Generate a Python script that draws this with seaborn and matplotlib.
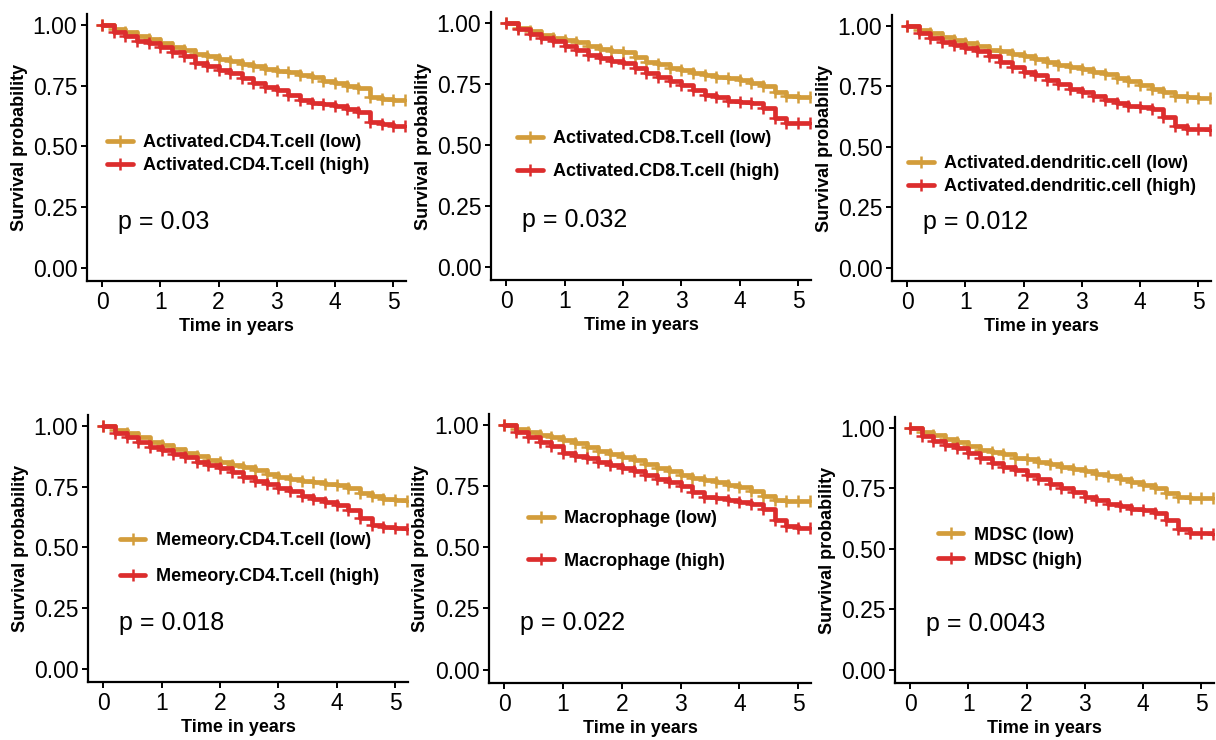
import matplotlib
matplotlib.use("Agg")
import matplotlib.pyplot as plt
import seaborn as sns
import pandas as pd

sns.set_theme(style="ticks", context="paper")
plt.rcParams["font.family"] = ["Liberation Sans", "DejaVu Sans"]
plt.rcParams["text.color"] = "black"
plt.rcParams["axes.labelcolor"] = "black"
plt.rcParams["xtick.color"] = "black"
plt.rcParams["ytick.color"] = "black"

time = [0.0, 0.2, 0.4, 0.6, 0.8, 1.0, 1.2, 1.4, 1.6, 1.8, 2.0, 2.2, 2.4, 2.6,
        2.8, 3.0, 3.2, 3.4, 3.6, 3.8, 4.0, 4.2, 4.4, 4.6, 4.8, 5.0, 5.2]

cells = ["Activated.CD4.T.cell", "Activated.CD8.T.cell", "Activated.dendritic.cell",
         "Memeory.CD4.T.cell", "Macrophage", "MDSC"]
pvals = ["p = 0.03", "p = 0.032", "p = 0.012", "p = 0.018", "p = 0.022", "p = 0.0043"]

cd4_low = [1.0, 0.985, 0.97, 0.955, 0.94, 0.925, 0.91, 0.895, 0.88, 0.87, 0.86, 0.85, 0.84, 0.83,
           0.82, 0.81, 0.805, 0.795, 0.785, 0.77, 0.76, 0.75, 0.74, 0.705, 0.695, 0.69, 0.69]
cd4_high = [1.0, 0.97, 0.955, 0.935, 0.925, 0.91, 0.89, 0.87, 0.845, 0.83, 0.815, 0.80, 0.78, 0.76,
            0.745, 0.73, 0.71, 0.69, 0.68, 0.675, 0.665, 0.655, 0.64, 0.60, 0.59, 0.585, 0.585]
cd8_low = [1.0, 0.98, 0.965, 0.95, 0.94, 0.93, 0.92, 0.905, 0.895, 0.885, 0.88, 0.86, 0.84, 0.83,
           0.815, 0.805, 0.795, 0.785, 0.78, 0.775, 0.765, 0.755, 0.74, 0.715, 0.70, 0.695, 0.695]
cd8_high = [1.0, 0.975, 0.955, 0.94, 0.925, 0.905, 0.89, 0.87, 0.855, 0.845, 0.835, 0.815, 0.795, 0.78,
            0.76, 0.745, 0.725, 0.705, 0.695, 0.68, 0.675, 0.67, 0.65, 0.61, 0.59, 0.59, 0.59]
dc_low = [1.0, 0.985, 0.97, 0.955, 0.94, 0.93, 0.915, 0.90, 0.895, 0.885, 0.875, 0.865, 0.85, 0.84,
          0.83, 0.82, 0.81, 0.80, 0.785, 0.77, 0.755, 0.74, 0.725, 0.71, 0.705, 0.70, 0.70]
dc_high = [1.0, 0.97, 0.95, 0.935, 0.92, 0.91, 0.895, 0.875, 0.85, 0.83, 0.81, 0.795, 0.775, 0.76,
           0.74, 0.725, 0.71, 0.695, 0.68, 0.67, 0.665, 0.655, 0.625, 0.585, 0.575, 0.575, 0.57]
mem_low = [1.0, 0.985, 0.97, 0.955, 0.935, 0.92, 0.905, 0.89, 0.875, 0.86, 0.85, 0.84, 0.83, 0.82,
           0.80, 0.79, 0.78, 0.775, 0.77, 0.76, 0.755, 0.745, 0.725, 0.71, 0.70, 0.695, 0.69]
mem_high = [1.0, 0.97, 0.955, 0.935, 0.915, 0.90, 0.885, 0.87, 0.85, 0.84, 0.825, 0.81, 0.79, 0.775,
            0.76, 0.745, 0.73, 0.71, 0.70, 0.685, 0.675, 0.655, 0.62, 0.59, 0.585, 0.58, 0.575]
mac_low = [1.0, 0.985, 0.97, 0.96, 0.95, 0.94, 0.925, 0.91, 0.895, 0.88, 0.87, 0.855, 0.84, 0.825,
           0.81, 0.795, 0.785, 0.775, 0.765, 0.755, 0.745, 0.73, 0.71, 0.695, 0.69, 0.69, 0.69]
mac_high = [1.0, 0.97, 0.95, 0.93, 0.915, 0.885, 0.875, 0.865, 0.85, 0.835, 0.825, 0.81, 0.795, 0.78,
            0.765, 0.75, 0.725, 0.705, 0.70, 0.695, 0.685, 0.675, 0.655, 0.61, 0.585, 0.58, 0.58]
mdsc_low = [1.0, 0.985, 0.97, 0.955, 0.94, 0.925, 0.91, 0.90, 0.89, 0.875, 0.87, 0.86, 0.85, 0.84,
            0.83, 0.82, 0.81, 0.80, 0.79, 0.775, 0.765, 0.75, 0.73, 0.715, 0.71, 0.71, 0.71]
mdsc_high = [1.0, 0.965, 0.945, 0.93, 0.915, 0.895, 0.875, 0.855, 0.84, 0.825, 0.805, 0.79, 0.77, 0.75,
             0.735, 0.715, 0.70, 0.685, 0.675, 0.665, 0.66, 0.65, 0.62, 0.58, 0.565, 0.565, 0.56]

low_curves = [cd4_low, cd8_low, dc_low, mem_low, mac_low, mdsc_low]
high_curves = [cd4_high, cd8_high, dc_high, mem_high, mac_high, mdsc_high]

# legend anchor (data coords: handle left, centre between rows) and row spacing
legend_anchor = [(0.09, 0.467), (0.19, 0.457), (0.02, 0.382),
                 (0.29, 0.452), (0.41, 0.53), (0.48, 0.505)]
legend_spacing = [0.35, 0.9, 0.35, 1.05, 1.4, 0.45]

# axes rectangles in pixels: left, top, right, bottom
boxes = [(87, 14, 406, 281), (491, 12, 811, 280), (892, 15, 1211, 281),
         (88, 415, 408, 682), (489, 414, 811, 683), (895, 417, 1214, 683)]

GOLD = "#D39D3B"
RED = "#DC2D2D"
W, H = 1216, 740

fig = plt.figure(figsize=(W / 100, H / 100), dpi=100)

for i in range(6):
    l, t, r, b = boxes[i]
    ax = fig.add_axes([l / W, 1 - b / H, (r - l) / W, (b - t) / H])

    lab_low = f"{cells[i]} (low)"
    lab_high = f"{cells[i]} (high)"
    df = pd.DataFrame({
        "time": time + time,
        "surv": low_curves[i] + high_curves[i],
        "group": [lab_low] * len(time) + [lab_high] * len(time),
    })
    sns.lineplot(data=df, x="time", y="surv", hue="group",
                 palette={lab_low: GOLD, lab_high: RED},
                 estimator=None, drawstyle="steps-post", linewidth=3.4,
                 marker="+", markersize=9, markeredgewidth=1.8,
                 legend=False, ax=ax)

    lines = ax.get_lines()[:2]
    for ln in lines:
        ln.set_markeredgecolor(ln.get_color())
        ln.set_markerfacecolor(ln.get_color())

    ax.set_xlim(-0.26, 5.22)
    ax.set_ylim(-0.055, 1.045)
    ax.set_xticks([0, 1, 2, 3, 4, 5])
    ax.set_yticks([0, 0.25, 0.5, 0.75, 1.0])
    ax.set_yticklabels(["0.00", "0.25", "0.50", "0.75", "1.00"])
    ax.tick_params(labelsize=16.5, length=4, width=1.4, pad=3, colors="black")
    for side in ["left", "bottom"]:
        ax.spines[side].set_linewidth(1.6)
        ax.spines[side].set_color("black")
    sns.despine(ax=ax)

    ax.set_xlabel("Time in years", fontsize=13, fontweight="bold")
    ax.set_ylabel("Survival probability", fontsize=13, fontweight="bold")
    ax.xaxis.set_label_coords(0.47, -0.138)
    ax.yaxis.set_label_coords(-0.185, 0.5)

    ax.legend(lines, [lab_low, lab_high], loc="center left",
              bbox_to_anchor=legend_anchor[i], bbox_transform=ax.transData,
              frameon=False, borderpad=0, borderaxespad=0, numpoints=1,
              handlelength=1.4, handletextpad=0.6,
              labelspacing=legend_spacing[i],
              prop={"size": 13, "weight": "bold"})

    ax.text(0.27, 0.19, pvals[i], fontsize=18, ha="left", va="center")

fig.savefig("out.png", dpi=100)
